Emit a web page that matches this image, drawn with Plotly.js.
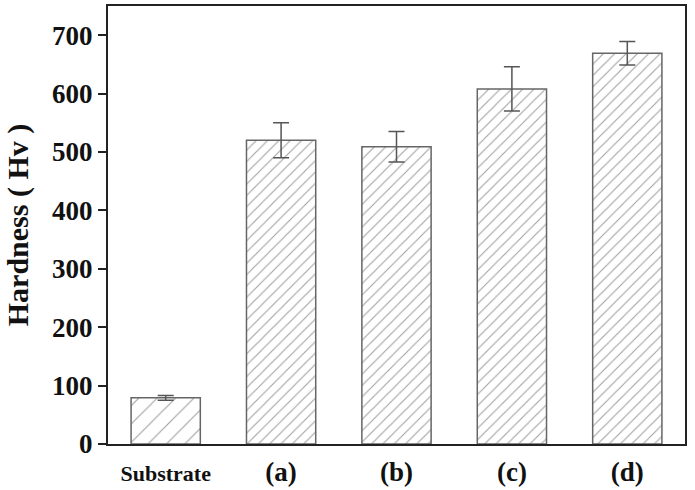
<!DOCTYPE html>
<html>
<head>
<meta charset="utf-8">
<script src="https://cdn.plot.ly/plotly-3.0.1.min.js"></script>
<style>
  html, body { margin: 0; padding: 0; background: #fff; }
  #chart { width: 695px; height: 490px; }
</style>
</head>
<body>
<div id="chart"></div>
<script>
// Vickers hardness of the substrate and coatings (a)-(d)
const samples = ['Substrate', '(a)', '(b)', '(c)', '(d)'];
const hardness = [79, 520, 509, 608, 669];
const hardnessErr = [4, 30, 26, 38, 20];
const tickLabels = ['<span style="font-size:22px">Substrate</span>', '(a)', '(b)', '(c)', '(d)'];

const serif = '"Liberation Serif", "Times New Roman", serif';
const positions = samples.map((_, i) => i);

const trace = {
  type: 'bar',
  x: positions,
  y: hardness,
  width: 0.6,
  error_y: {
    type: 'data',
    array: hardnessErr,
    visible: true,
    color: '#555',
    thickness: 1.5,
    width: 8
  },
  marker: {
    color: '#ffffff',
    line: { color: '#666', width: 1.5 },
    pattern: {
      shape: '/',
      size: [13, 8, 8, 8, 8],
      solidity: [0.09, 0.14, 0.14, 0.14, 0.14],
      fgcolor: '#444',
      bgcolor: '#ffffff',
      fillmode: 'overlay'
    }
  },
  hoverinfo: 'x+y'
};

const layout = {
  width: 695,
  height: 490,
  margin: { l: 108, r: 10, t: 6, b: 46 },
  paper_bgcolor: '#fff',
  plot_bgcolor: '#fff',
  showlegend: false,
  font: { family: serif, color: '#111' },
  xaxis: {
    range: [-0.5, 4.5],
    tickmode: 'array',
    tickvals: positions,
    ticktext: tickLabels,
    ticks: '',
    ticklen: 0,
    ticklabelstandoff: 3,
    tickfont: { family: serif, size: 27, color: '#111', weight: 'bold' },
    showgrid: false,
    zeroline: false,
    showline: true,
    linecolor: '#222',
    linewidth: 2,
    mirror: true
  },
  yaxis: {
    range: [0, 750],
    dtick: 100,
    ticks: 'outside',
    ticklen: 8,
    tickwidth: 2,
    tickcolor: '#222',
    tickfont: { family: serif, size: 27, color: '#111', weight: 'bold' },
    showgrid: false,
    zeroline: false,
    showline: true,
    linecolor: '#222',
    linewidth: 2,
    mirror: true,
    title: {
      text: 'Hardness ( Hv )',
      font: { family: serif, size: 30, color: '#111', weight: 'bold' },
      standoff: 15
    }
  }
};

Plotly.newPlot('chart', [trace], layout, { displayModeBar: false, staticPlot: true });
</script>
</body>
</html>
